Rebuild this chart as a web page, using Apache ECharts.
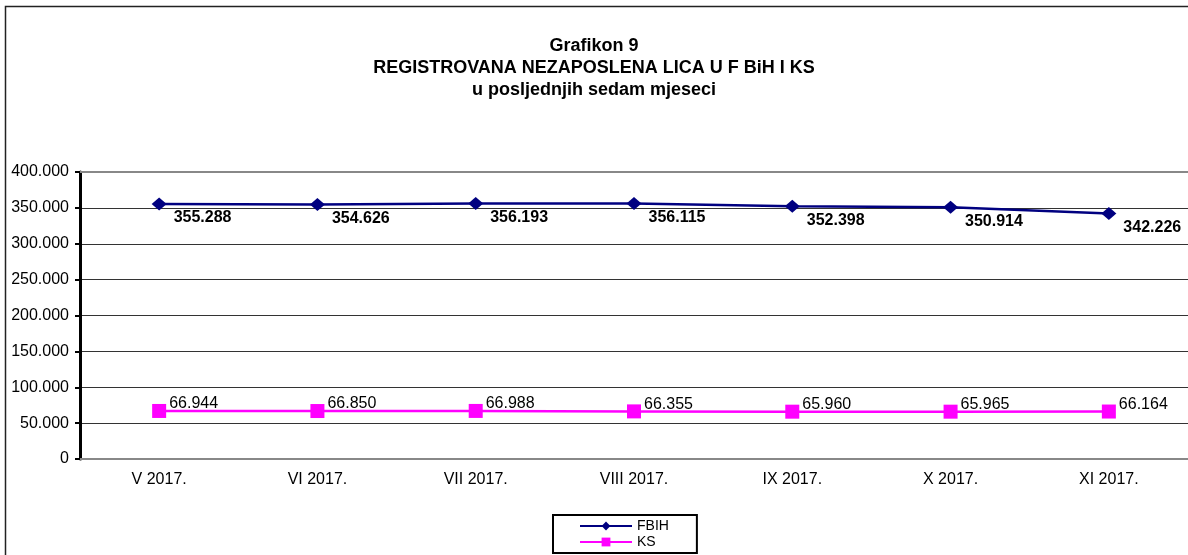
<!DOCTYPE html>
<html><head><meta charset="utf-8">
<script src="https://cdn.jsdelivr.net/npm/echarts@6/dist/echarts.min.js"></script>
<style>html,body{margin:0;padding:0;background:#fff}#c{width:1188px;height:555px}</style>
</head><body><div id="c"></div>
<script>
const categories = ['V 2017.', 'VI 2017.', 'VII 2017.', 'VIII 2017.', 'IX 2017.', 'X 2017.', 'XI 2017.'];
const fbih = [355288, 354626, 356193, 356115, 352398, 350914, 342226];
const ks = [66944, 66850, 66988, 66355, 65960, 65965, 66164];
const titleLines = ['Grafikon 9', 'REGISTROVANA NEZAPOSLENA LICA U F BiH I KS', 'u posljednjih sedam mjeseci'];

function fmt(v) { return String(v).replace(/\B(?=(\d{3})+(?!\d))/g, '.'); }
const F = 'Liberation Sans, Arial, sans-serif';
const chart = echarts.init(document.getElementById('c'), null, {renderer: 'canvas'});
chart.setOption({
  animation: false,
  backgroundColor: '#fff',
  textStyle: {fontFamily: F},
  title: {
    text: titleLines.join('\n'), left: 'center', top: 30,
    textStyle: {fontFamily: F, fontSize: 18, fontWeight: 'bold', color: '#000', lineHeight: 22}
  },
  graphic: [{
    type: 'rect', silent: true, z: -1,
    shape: {x: 5.5, y: 6.5, width: 1400, height: 800},
    style: {fill: 'none', stroke: '#222', lineWidth: 1.5}
  }],
  legend: {
    orient: 'vertical', left: 553, top: 515,
    borderColor: '#000', borderWidth: 2, padding: [4, 28, 4, 26],
    itemWidth: 52, itemHeight: 11, itemGap: 2,
    textStyle: {fontFamily: F, fontSize: 14, color: '#000'},
    data: ['FBIH', 'KS']
  },
  grid: {left: 80, right: -5, top: 172, bottom: 96},
  xAxis: [{
    type: 'category', data: categories, boundaryGap: true,
    axisLine: {lineStyle: {color: '#888', width: 2}},
    axisTick: {show: false},
    axisLabel: {fontFamily: F, fontSize: 16, color: '#000', margin: 13}
  }, {
    type: 'category', data: categories, position: 'top',
    axisLine: {lineStyle: {color: '#888', width: 2}},
    axisTick: {show: false}, axisLabel: {show: false}
  }],
  yAxis: {
    type: 'value', min: 0, max: 400000, interval: 50000,
    axisLine: {show: true, lineStyle: {color: '#000', width: 3}},
    axisTick: {show: true, length: 5, lineStyle: {color: '#000', width: 2}},
    axisLabel: {fontFamily: F, fontSize: 16, color: '#000', margin: 11, formatter: v => fmt(v)},
    splitLine: {lineStyle: {color: '#333', width: 1}}
  },
  series: [{
    name: 'FBIH', type: 'line', data: fbih,
    symbol: 'diamond', symbolSize: [15, 13],
    lineStyle: {color: '#000080', width: 2.5},
    itemStyle: {color: '#000080'},
    label: {show: true, position: 'right', offset: [2, 14], formatter: p => fmt(p.value),
      fontFamily: F, fontSize: 16, fontWeight: 'bold', color: '#000'}
  }, {
    name: 'KS', type: 'line', data: ks,
    symbol: 'rect', symbolSize: 14,
    lineStyle: {color: '#ff00ff', width: 2.5},
    itemStyle: {color: '#ff00ff'},
    label: {show: true, position: 'right', offset: [-2, -7], formatter: p => fmt(p.value),
      fontFamily: F, fontSize: 16, color: '#000'}
  }]
});
</script></body></html>
